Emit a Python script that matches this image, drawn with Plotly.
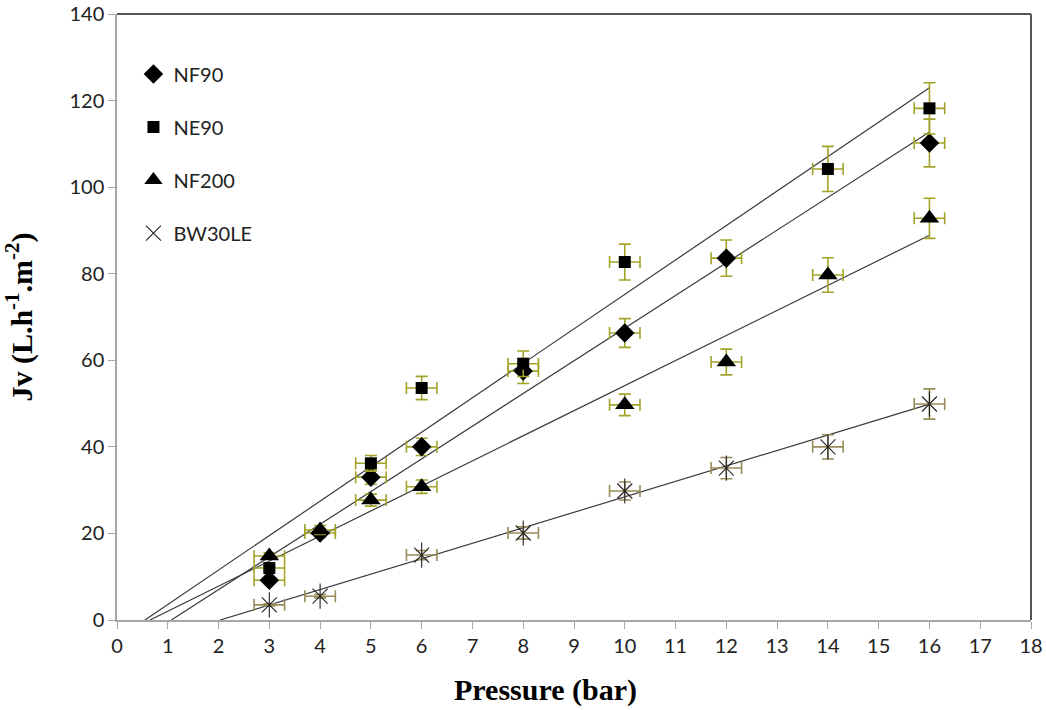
import plotly.graph_objects as go

pressure = [3, 4, 5, 6, 8, 10, 12, 14, 16]

nf90 = [9.2, 20.1, 33.0, 40.0, 57.5, 66.3, 83.6, None, 110.2]
ne90 = [12.0, None, 36.2, 53.6, 59.2, 82.7, None, 104.2, 118.2]
nf200 = [14.8, 20.8, 27.7, 30.8, None, 49.7, 59.6, 79.7, 92.8]
bw30le = [3.5, 5.5, None, 15.0, 20.1, 29.8, 35.1, 40.0, 49.9]

series_names = ["NF90", "NE90", "NF200", "BW30LE"]
series_values = [nf90, ne90, nf200, bw30le]
y_err_percent = [5, 5, 5, 7]
x_err_abs = 0.3

# linear trendlines (slope, intercept)
trend_slope = [7.55, 7.96, 5.79, 3.57]
trend_intercept = [-8.08, -4.38, -3.76, -7.25]

x_ticks = list(range(0, 19))
y_ticks = list(range(0, 141, 20))
x_title = "<b>Pressure (bar)</b>"
y_title = "<b>Jv (L.h<sup>-1</sup>.m<sup>-2</sup>)</b>"

symbols = ["diamond", "square", "triangle-up", "x-thin-open"]
sizes = [15, 12, 17, 15]
err_colors = ["#a3a32a", "#a3a32a", "#a3a32a", "#988c5a"]

fig = go.Figure()

# trendlines
for m, b in zip(trend_slope, trend_intercept):
    x0 = -b / m
    x1 = max(pressure)
    fig.add_trace(go.Scatter(
        x=[x0, x1], y=[m * x0 + b, m * x1 + b], mode="lines",
        line=dict(color="#3a3a3a", width=1.2), showlegend=False, hoverinfo="skip"))

for i, (name, vals) in enumerate(zip(series_names, series_values)):
    xs = [p for p, v in zip(pressure, vals) if v is not None]
    ys = [v for v in vals if v is not None]
    mk = dict(symbol=symbols[i], size=sizes[i], color="black")
    if symbols[i] == "x-thin-open":
        mk = dict(symbol="x-thin-open", size=sizes[i], color="#222222",
                  line=dict(width=1.1, color="#222222"))
    fig.add_trace(go.Scatter(
        x=xs, y=ys, mode="markers", name=name, legendgroup=name,
        marker=mk,
        error_y=dict(type="percent", value=y_err_percent[i], color=err_colors[i],
                     thickness=1.6, width=6),
        error_x=dict(type="constant", value=x_err_abs, color=err_colors[i],
                     thickness=1.6, width=6),
    ))
    if symbols[i] == "x-thin-open":
        fig.add_trace(go.Scatter(
            x=xs, y=ys, mode="markers", showlegend=False, legendgroup=name,
            marker=dict(symbol="line-ns-open", size=sizes[i] + 3, color="#222222",
                        line=dict(width=1.1, color="#222222")),
            hoverinfo="skip"))

tick_font = dict(family="Lato, Open Sans, sans-serif", size=20, color="#222222")
title_font = dict(family="Liberation Serif, Times New Roman, serif", size=30, color="black")

fig.update_layout(
    width=1046, height=710,
    margin=dict(l=117, r=15, t=14, b=90),
    plot_bgcolor="white", paper_bgcolor="white",
    showlegend=True,
    legend=dict(x=0.018, y=0.933, xanchor="left", yanchor="top",
                font=dict(family="Lato, Open Sans, sans-serif", size=20, color="#222222"),
                tracegroupgap=24, itemwidth=30, bgcolor="rgba(0,0,0,0)"),
    xaxis=dict(range=[0, 18], tickvals=x_ticks, ticktext=[str(t) for t in x_ticks],
               showgrid=False, zeroline=False, showline=True, linecolor="#a6a6a6",
               linewidth=1.5, ticks="outside", ticklen=7, tickcolor="#a6a6a6",
               tickfont=tick_font, automargin=False, ticklabeloverflow="allow"),
    yaxis=dict(range=[0, 140], tickvals=y_ticks, ticktext=[str(t) for t in y_ticks],
               showgrid=False, zeroline=False, showline=True, linecolor="#a6a6a6",
               linewidth=1.5, ticks="outside", ticklen=7, tickcolor="#a6a6a6",
               tickfont=tick_font, automargin=False, ticklabeloverflow="allow",
               title=dict(text=y_title, standoff=30, font=title_font)),
    annotations=[
        dict(text=x_title, xref="paper", yref="paper", x=0.469, y=-0.116,
             xanchor="center", yanchor="middle", showarrow=False, font=title_font),
    ],
    shapes=[
        dict(type="line", xref="paper", yref="paper", x0=0, x1=1, y0=1, y1=1,
             line=dict(color="#555555", width=2)),
        dict(type="line", xref="paper", yref="paper", x0=1, x1=1, y0=0, y1=1,
             line=dict(color="#555555", width=2)),
    ],
)

fig.write_html("out.html", config={"displayModeBar": False},
               post_script="document.body.style.margin='0px';document.body.style.overflow='hidden';")
